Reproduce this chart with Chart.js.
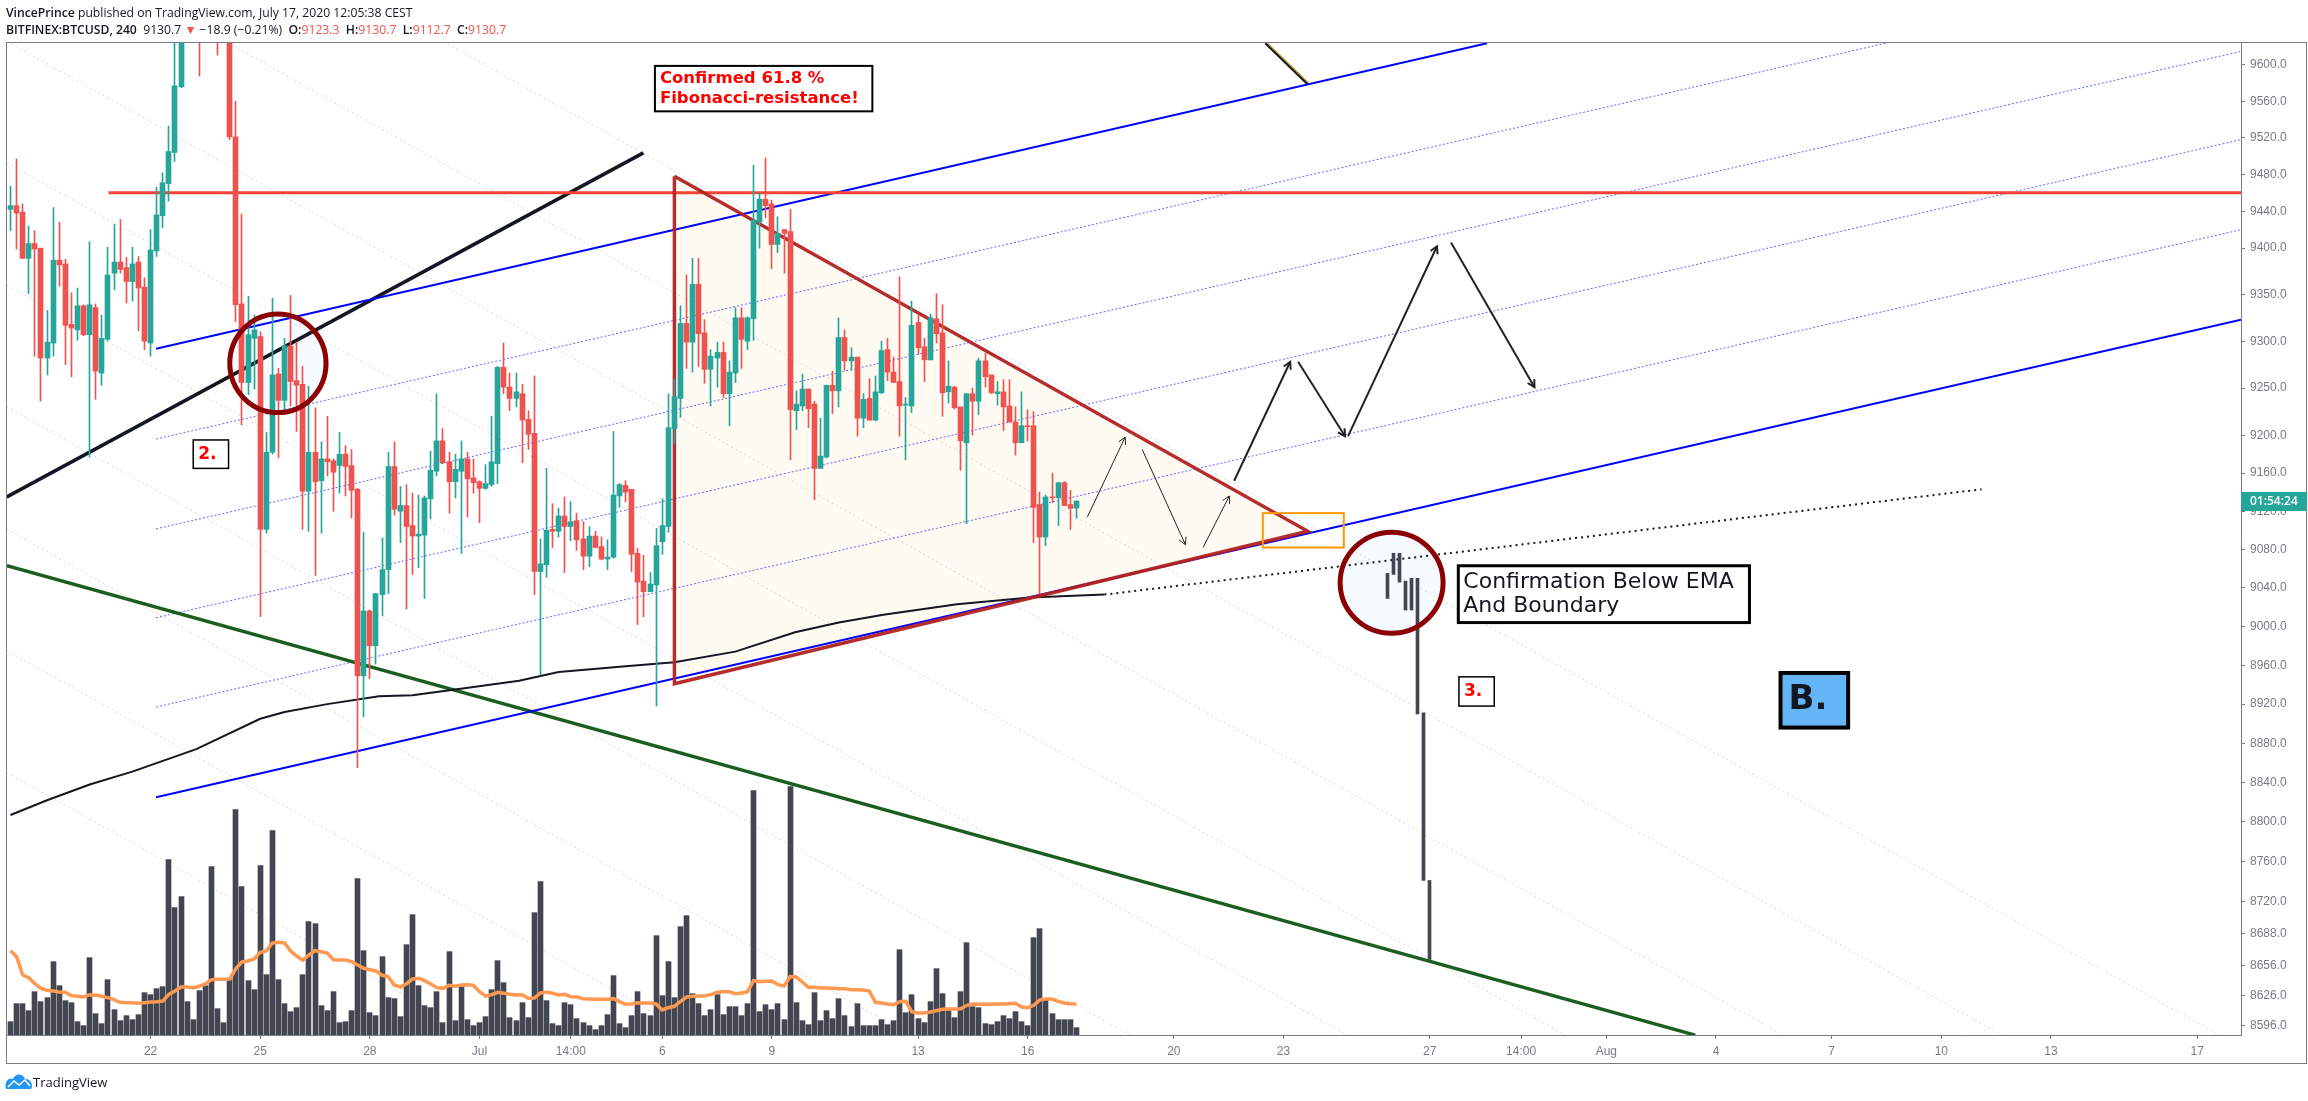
<!DOCTYPE html>
<html lang="en">
<head>
<meta charset="UTF-8">
<title>BITFINEX:BTCUSD, 240</title>
<script src="https://cdn.jsdelivr.net/npm/chart.js@4"></script>
<style>
  html, body { margin: 0; padding: 0; background: #fff; }
  canvas { display: block; }
</style>
</head>
<body>
<canvas id="chart" width="2308" height="1101"></canvas>
<script>
// 4h candles
const opens = [9442,9446,9439,9389,9405,9400,9282,9298,9387,9383,9318,9312,9338,9307,9336,9266,9302,9373,9385,9379,
  9364,9385,9358,9298,9397,9435,9470,9504,9576,9640,9665,9660,9640,9670,9650,9635,9650,9521,9340,9256,
  9303,9305,9101,9182,9265,9237,9295,9258,9254,9141,9182,9152,9175,9173,9168,9180,9168,9143,8949,9016,
  8980,9033,9059,9167,9120,9126,9105,9094,9095,9133,9162,9194,9172,9151,9162,9175,9155,9151,9144,9148,
  9170,9272,9251,9239,9244,9217,9202,9057,9064,9101,9099,9115,9104,9110,9091,9073,9094,9083,9070,9072,
  9136,9147,9143,9076,9047,9036,9043,9088,9104,9207,9239,9319,9299,9361,9309,9270,9282,9288,9244,9266,
  9325,9300,9324,9428,9453,9448,9404,9420,9418,9226,9231,9249,9233,9165,9177,9253,9247,9304,9279,9283,
  9218,9239,9216,9245,9291,9267,9257,9232,9231,9320,9294,9280,9324,9309,9246,9251,9230,9192,9244,9236,
  9279,9264,9244,9246,9231,9214,9192,9210,9210,9127,9093,9135,9134,9150,9127,9123.3];
const highs = [9467,9497,9448,9424,9419,9400,9333,9444,9428,9388,9352,9357,9339,9407,9340,9328,9401,9426,9431,9390,
  9401,9391,9368,9420,9466,9482,9533,9630,9650,9675,9690,9668,9680,9685,9660,9650,9660,9560,9437,9348,
  9328,9310,9203,9346,9271,9303,9349,9299,9273,9252,9229,9193,9220,9175,9203,9189,9185,9144,9098,9017,
  9034,9092,9182,9193,9146,9148,9139,9137,9136,9183,9244,9207,9182,9180,9194,9182,9175,9152,9169,9220,
  9273,9298,9266,9266,9254,9226,9263,9091,9165,9128,9123,9135,9130,9118,9109,9104,9099,9093,9090,9204,
  9149,9152,9143,9081,9074,9056,9102,9133,9244,9259,9338,9371,9389,9389,9323,9291,9299,9299,9279,9336,
  9336,9326,9490,9460,9498,9452,9434,9420,9442,9247,9265,9249,9236,9218,9253,9268,9325,9312,9293,9283,
  9244,9260,9263,9300,9303,9283,9369,9240,9343,9328,9303,9329,9351,9339,9279,9252,9230,9244,9250,9282,
  9287,9264,9257,9259,9259,9230,9246,9227,9225,9140,9137,9160,9150,9151,9142,9130.7];
const lows = [9419,9399,9389,9351,9284,9236,9264,9284,9359,9275,9262,9301,9306,9177,9238,9253,9300,9355,9373,9341,
  9343,9311,9291,9284,9391,9422,9451,9494,9575,9632,9640,9588,9630,9635,9611,9626,9518,9321,9211,9243,
  9249,9010,9097,9180,9176,9223,9231,9204,9101,9099,9053,9097,9157,9120,9139,9136,9113,8855,8907,8946,
  8961,9011,9034,9116,9087,9018,9054,9061,9029,9112,9157,9170,9118,9134,9076,9114,9139,9108,9143,9146,
  9149,9244,9226,9230,9171,9185,9033,8950,9051,9082,9093,9056,9089,9079,9059,9062,9082,9069,9059,9071,
  9124,9130,9057,9002,9010,9036,8918,9075,9098,9191,9219,9271,9267,9273,9255,9231,9251,9240,9210,9256,
  9271,9291,9301,9400,9433,9378,9395,9373,9174,9206,9226,9208,9132,9165,9176,9223,9230,9269,9269,9199,
  9208,9216,9215,9244,9258,9256,9199,9174,9224,9286,9257,9280,9298,9220,9234,9228,9163,9107,9200,9222,
  9251,9244,9232,9205,9214,9179,9192,9194,9087,9034,9084,9129,9105,9126,9101,9112.7];
const closes = [9446,9438,9389,9405,9399,9282,9299,9387,9382,9317,9314,9338,9307,9339,9268,9303,9371,9385,9377,9364,
  9383,9357,9300,9398,9436,9471,9505,9577,9640,9665,9650,9640,9670,9650,9635,9630,9521,9339,9256,9307,
  9312,9101,9182,9264,9237,9295,9257,9253,9141,9182,9151,9175,9172,9161,9180,9167,9142,8949,9016,8980,
  9034,9059,9167,9122,9126,9104,9094,9096,9134,9163,9194,9171,9151,9164,9175,9154,9150,9144,9149,9172,
  9272,9251,9239,9246,9216,9201,9057,9065,9100,9099,9115,9104,9109,9090,9073,9094,9082,9070,9072,9137,
  9148,9140,9075,9046,9036,9044,9084,9105,9208,9241,9319,9299,9361,9308,9270,9284,9288,9244,9267,9325,
  9302,9325,9430,9453,9446,9404,9416,9416,9227,9233,9249,9228,9165,9178,9253,9247,9304,9279,9283,9218,
  9238,9216,9246,9290,9267,9256,9231,9233,9317,9293,9280,9325,9308,9245,9252,9229,9194,9244,9236,9279,
  9262,9245,9246,9230,9214,9192,9210,9209,9124,9093,9135,9134,9150,9126,9123,9130.7];

const volumes = [40,94,94,73,130,100,112,220,148,103,97,40,28,232,64,34,166,76,43,58,
  46,61,127,121,139,145,526,382,415,100,46,133,148,505,79,37,166,676,445,163,
  136,508,181,613,166,94,70,82,181,340,334,88,73,130,37,40,73,469,253,67,
  58,235,112,109,55,271,361,148,88,82,130,37,250,43,145,46,28,37,55,136,
  223,157,52,43,97,52,367,460,103,34,28,97,91,49,37,28,16,28,61,178,
  34,22,58,130,64,58,298,118,220,112,325,358,124,94,58,76,121,61,85,85,
  58,94,733,70,91,76,94,46,745,97,43,31,127,43,73,49,109,58,25,94,
  28,28,28,46,31,43,256,67,121,49,37,100,199,124,73,52,130,277,85,82,
  34,31,40,58,49,70,40,28,292,319,106,64,46,46,46,22];
const volumeMa = [253,235,180,172,154,140,134,132,129,128,118,116,114,121,119,116,112,106,98,97,
  97,95,97,99,100,102,122,132,144,144,142,146,153,166,167,167,168,199,219,222,
  228,248,252,276,278,276,252,236,225,240,253,250,246,226,225,225,220,210,200,196,
  192,179,175,150,144,154,168,170,163,153,142,140,149,146,150,151,149,130,117,121,
  128,125,122,120,121,110,111,126,128,125,120,122,115,114,109,108,107,107,107,109,
  100,92,93,97,96,96,93,75,82,86,101,114,116,117,118,121,128,130,130,124,
  126,130,163,160,161,162,151,147,175,174,159,143,143,141,141,140,139,139,136,136,
  135,132,98,96,93,91,100,101,69,66,66,69,73,77,78,78,79,89,93,92,
  92,92,93,93,94,95,84,82,89,105,108,108,101,96,94,93];

const yTicks = [9600,9560,9520,9480,9440,9400,9350,9300,9250,9200,9160,9120,9080,9040,9000,8960,8920,8880,8840,8800,8760,8720,8688,8656,8626,8596];
const xTickBars = [23,41,59,77,92,107,125,149,167,191,209,233,248,262,280,299,317,335,359];
const xTickLabels = ['22','25','28','Jul','14:00','6','9','13','16','20','23','27','14:00','Aug','4','7','10','13','17'];

// 200 EMA, solid part then the projected dotted part
const emaBars = [0,6,13,20,30.5,41,45,52,60.5,66,73,83.5,90,101,109,119,128.8,136,143.3,155.4,167.4,179.6];
const emaPrices = [8807,8822,8838,8851,8874,8905,8912,8920,8928,8929,8935,8944,8953,8959,8963,8974,8994,9004,9012,9023,9030,9033];
const emaProjBars = [179.6,323.6];
const emaProjPrices = [9033,9143];

// drawn price levels and trend lines (bar index, price)
const resistanceBars = [16.1,366.2];
const resistancePrices = [9460,9460];
const blackTrendBars = [-0.6,103.9];
const blackTrendPrices = [9135,9503.5];
const greenTrendBars = [-0.6,276.6];
const greenTrendPrices = [9063,8587];
const channelTopBars = [23.9,242.4];
const channelTopPrices = [9292,9624];
const channelBottomBars = [23.9,366.2];
const channelBottomPrices = [8825,9323];
const channelMidBars = [[23.9,307.8],[23.9,366.2],[23.9,366.2],[23.9,366.2]];
const channelMidPrices = [[9196,9624],[9101.5,9615],[9009,9518],[8917,9420]];
const fanStartPrices = [9900,9762,9626,9492.5,9360,9230,9101,8975,8850];
const fanEndPrices = [8575,8456,8338,8222,8107.5,7995,7883,7774,7665];
const fanBars = [-0.6,366.2];
const topStubBars = [206,212.9];
const topStubPrices = [9624,9579];

// triangle
const triangleBars = [109,213,109,109];
const trianglePrices = [9478,9099,8941,9478];

// projected path arrows
const arrowBars = [[176.8,183],[185.8,192.9],[195.8,200.1],[200.9,210.1],[211.4,219.1],[219.6,234.2],[236.5,250.2]];
const arrowPrices = [[9114,9198],[9185,9085],[9082,9136],[9152,9278],[9278,9199],[9199,9402],[9406,9251]];
const arrowWidths = [1,1,1,2,2,2,2];

// pasted bar pattern
const ghostBars = [226,227,228,229,230,231,232,233];
const ghostHighs = [9055,9076,9076,9047,9050,9050,8911,8741];
const ghostLows = [9029,9054,9046,9017,9017,8910,8741,8662];

const TEAL = '#26a69a';
const RED = '#ef5350';
const AXIS = '#787b86';
const DARK = '#131722';
const FONT = '"Open Sans", sans-serif';

function lineData(bars, prices) {
  return bars.map((b, i) => ({ x: b, y: prices[i] }));
}

function line(bars, prices, color, width, order, extra) {
  return Object.assign({
    type: 'line',
    data: lineData(bars, prices),
    borderColor: color,
    borderWidth: width,
    pointRadius: 0,
    tension: 0,
    fill: false,
    xAxisID: 'x',
    yAxisID: 'y',
    order: order
  }, extra || {});
}

const candleColors = closes.map((c, i) => c >= opens[i] ? TEAL : RED);

const datasets = [];

fanStartPrices.forEach((p, i) => {
  datasets.push(line(fanBars, [p, fanEndPrices[i]], '#d8d8d8', 1, 20, { borderDash: [2, 3] }));
});
channelMidBars.forEach((bars, i) => {
  datasets.push(line(bars, channelMidPrices[i], 'rgba(60,60,255,0.8)', 1, 18, { borderDash: [2, 2] }));
});
datasets.push(line(channelTopBars, channelTopPrices, '#0000ff', 2, 12));
datasets.push(line(channelBottomBars, channelBottomPrices, '#0000ff', 2, 12));
datasets.push(line(greenTrendBars, greenTrendPrices, '#1b5e20', 3.5, 13));
datasets.push(line(blackTrendBars, blackTrendPrices, DARK, 3.5, 13));
datasets.push(line(topStubBars.map(b => b + 0.3), topStubPrices, '#c9a227', 2, 14));
datasets.push(line(topStubBars, topStubPrices, DARK, 2, 13));
datasets.push(line(resistanceBars, resistancePrices, '#f44336', 3, 11));
datasets.push(line(emaBars, emaPrices, DARK, 2, 10));
datasets.push(line(emaProjBars, emaProjPrices, DARK, 2, 10, { borderDash: [2, 4] }));
datasets.push(line(triangleBars, trianglePrices, 'rgba(178,34,34,0.95)', 3.5, 9, { borderJoinStyle: 'miter' }));
arrowBars.forEach((bars, i) => {
  datasets.push(line(bars, arrowPrices[i], '#222222', arrowWidths[i], 8));
});

datasets.push({
  type: 'bar',
  data: volumes.map((v, i) => ({ x: i, y: v })),
  backgroundColor: '#434651',
  barThickness: 5,
  yAxisID: 'yVol',
  grouped: false,
  order: 6
});
datasets.push(line([], [], '#ff9850', 3.5, 5, { yAxisID: 'yVol', data: volumeMa.map((v, i) => ({ x: i, y: v })) }));

datasets.push({
  type: 'bar',
  data: ghostBars.map((b, i) => ({ x: b, y: [ghostLows[i], ghostHighs[i]] })),
  backgroundColor: '#434651',
  barThickness: 3,
  yAxisID: 'y',
  grouped: false,
  order: 4
});
datasets.push({
  type: 'bar',
  data: highs.map((h, i) => ({ x: i, y: [lows[i], h] })),
  backgroundColor: candleColors,
  barThickness: 1,
  yAxisID: 'y',
  grouped: false,
  order: 3
});
datasets.push({
  type: 'bar',
  data: opens.map((o, i) => ({ x: i, y: [o, closes[i]] })),
  backgroundColor: candleColors,
  barThickness: 5,
  minBarLength: 1,
  yAxisID: 'y',
  grouped: false,
  order: 2
});

// text boxes and circles, placed in bar index / price
const noteBoxes = [
  { x1: 105.8, x2: 141.5, y1: 9599, y2: 9549, lines: ['Confirmed 61.8 %', 'Fibonacci-resistance!'], color: '#ff0000', size: 16.5, weight: '700', lh: 20, border: 2, pad: 5, fill: '#fff' },
  { x1: 30, x2: 35.8, y1: 9195, y2: 9165, lines: ['2.'], color: '#ff0000', size: 17, weight: '700', lh: 20, border: 1.5, pad: 5, fill: '#fff' },
  { x1: 237.8, x2: 243.6, y1: 8948, y2: 8918, lines: ['3.'], color: '#ff0000', size: 17, weight: '700', lh: 20, border: 1.5, pad: 5, fill: '#fff' },
  { x1: 237.7, x2: 285.5, y1: 9063, y2: 9004, lines: ['Confirmation Below EMA', 'And Boundary'], color: DARK, size: 22, weight: '400', lh: 24, border: 3, pad: 5, fill: '#fff' },
  { x1: 290.6, x2: 301.7, y1: 8952, y2: 8896, lines: ['B.'], color: DARK, size: 34, weight: '700', lh: 40, border: 4, pad: 8, fill: '#64b5f6' }
];
const circles = [
  { x1: 36, x2: 51.8, y1: 9329, y2: 9224 },
  { x1: 218.3, x2: 235.2, y1: 9098, y2: 8993 }
];
const orangeBox = { x1: 205.6, x2: 218.9, y1: 9118, y2: 9082 };

const headerLine1 = [
  { t: 'VincePrince', b: true },
  { t: ' published on TradingView.com, July 17, 2020 12:05:38 CEST' }
];
const headerLine2 = [
  { t: 'BITFINEX:BTCUSD, 240', b: true },
  { t: '  9130.7 ' },
  { t: '▼', c: RED },
  { t: ' −18.9 (−0.21%)  ' },
  { t: 'O:', b: true }, { t: '9123.3  ', c: RED },
  { t: 'H:', b: true }, { t: '9130.7  ', c: RED },
  { t: 'L:', b: true }, { t: '9112.7  ', c: RED },
  { t: 'C:', b: true }, { t: '9130.7', c: RED }
];

function drawSegments(ctx, segs, x, y) {
  segs.forEach(s => {
    ctx.font = (s.b ? '600 ' : '400 ') + '12.2px ' + FONT;
    ctx.fillStyle = s.c || DARK;
    ctx.fillText(s.t, x, y);
    x += ctx.measureText(s.t).width;
  });
}

function ellipsePath(chart, c) {
  const sx = chart.scales.x, sy = chart.scales.y;
  const l = sx.getPixelForValue(c.x1), r = sx.getPixelForValue(c.x2);
  const t = sy.getPixelForValue(c.y1), b = sy.getPixelForValue(c.y2);
  chart.ctx.beginPath();
  chart.ctx.ellipse((l + r) / 2, (t + b) / 2, (r - l) / 2, (b - t) / 2, 0, 0, Math.PI * 2);
}

const drawings = {
  id: 'drawings',
  afterDatasetUpdate(chart, args) {
    // snap bars to whole pixels so the wicks stay crisp
    const meta = chart.getDatasetMeta(args.index);
    if (meta.type === 'bar') {
      meta.data.forEach(el => { el.x = Math.floor(el.x) + 0.5; });
    }
  },
  beforeDatasetsDraw(chart) {
    const ctx = chart.ctx, sx = chart.scales.x, sy = chart.scales.y;
    ctx.save();
    ctx.beginPath();
    triangleBars.forEach((b, i) => {
      ctx.lineTo(sx.getPixelForValue(b), sy.getPixelForValue(trianglePrices[i]));
    });
    ctx.closePath();
    ctx.fillStyle = 'rgba(255,152,0,0.05)';
    ctx.fill();
    circles.forEach(c => {
      ellipsePath(chart, c);
      ctx.fillStyle = 'rgba(33,150,243,0.04)';
      ctx.fill();
    });
    ctx.restore();
  },
  afterDatasetsDraw(chart) {
    const ctx = chart.ctx, sx = chart.scales.x, sy = chart.scales.y;
    ctx.save();
    circles.forEach(c => {
      ellipsePath(chart, c);
      ctx.strokeStyle = '#8b0000';
      ctx.lineWidth = 5;
      ctx.stroke();
    });

    ctx.strokeStyle = '#ff9800';
    ctx.lineWidth = 2;
    ctx.strokeRect(sx.getPixelForValue(orangeBox.x1), sy.getPixelForValue(orangeBox.y1),
      sx.getPixelForValue(orangeBox.x2) - sx.getPixelForValue(orangeBox.x1),
      sy.getPixelForValue(orangeBox.y2) - sy.getPixelForValue(orangeBox.y1));

    // arrow heads
    ctx.strokeStyle = '#222222';
    arrowBars.forEach((bars, i) => {
      const x0 = sx.getPixelForValue(bars[0]), y0 = sy.getPixelForValue(arrowPrices[i][0]);
      const x1 = sx.getPixelForValue(bars[1]), y1 = sy.getPixelForValue(arrowPrices[i][1]);
      const a = Math.atan2(y1 - y0, x1 - x0);
      ctx.lineWidth = arrowWidths[i];
      ctx.beginPath();
      ctx.moveTo(x1 - 8 * Math.cos(a - 0.5), y1 - 8 * Math.sin(a - 0.5));
      ctx.lineTo(x1, y1);
      ctx.lineTo(x1 - 8 * Math.cos(a + 0.5), y1 - 8 * Math.sin(a + 0.5));
      ctx.stroke();
    });

    noteBoxes.forEach(n => {
      const l = sx.getPixelForValue(n.x1), r = sx.getPixelForValue(n.x2);
      const t = sy.getPixelForValue(n.y1), b = sy.getPixelForValue(n.y2);
      ctx.fillStyle = n.fill;
      ctx.fillRect(l, t, r - l, b - t);
      ctx.strokeStyle = '#000';
      ctx.lineWidth = n.border;
      ctx.strokeRect(l, t, r - l, b - t);
      ctx.fillStyle = n.color;
      ctx.font = n.weight + ' ' + n.size + 'px "DejaVu Sans", sans-serif';
      ctx.textBaseline = 'middle';
      ctx.textAlign = 'left';
      const y0 = (t + b) / 2 - (n.lines.length - 1) * n.lh / 2;
      n.lines.forEach((s, i) => ctx.fillText(s, l + n.pad, y0 + i * n.lh));
    });
    ctx.restore();
  },
  afterDraw(chart) {
    const ctx = chart.ctx, area = chart.chartArea;
    ctx.save();
    // outer frame
    ctx.strokeStyle = AXIS;
    ctx.lineWidth = 1;
    ctx.strokeRect(area.left - 0.5, area.top - 0.5, 2307 - area.left, 1064 - area.top);

    // header
    ctx.textBaseline = 'alphabetic';
    ctx.textAlign = 'left';
    drawSegments(ctx, headerLine1, 6, 17);
    drawSegments(ctx, headerLine2, 6, 34);

    // countdown tag on the price axis
    const tagY = chart.scales.y.getPixelForValue(closes[closes.length - 1]);
    ctx.fillStyle = TEAL;
    ctx.fillRect(area.right, tagY - 9, 66, 19);
    ctx.fillStyle = '#fff';
    ctx.font = '600 12px ' + FONT;
    ctx.textBaseline = 'middle';
    ctx.fillText('01:54:24', area.right + 9, tagY + 1);

    // footer logo and name
    ctx.fillStyle = '#2196f3';
    ctx.beginPath();
    ctx.moveTo(6, 1089);
    ctx.bezierCurveTo(4, 1080, 10, 1077, 13, 1079);
    ctx.bezierCurveTo(15, 1073, 23, 1073, 25, 1079);
    ctx.bezierCurveTo(30, 1078, 34, 1085, 31, 1089);
    ctx.closePath();
    ctx.fill();
    ctx.strokeStyle = '#fff';
    ctx.lineWidth = 1.5;
    ctx.beginPath();
    ctx.moveTo(8, 1087);
    ctx.lineTo(14, 1081);
    ctx.lineTo(19, 1085);
    ctx.lineTo(25, 1080);
    ctx.lineTo(30, 1086);
    ctx.stroke();
    ctx.fillStyle = DARK;
    ctx.font = '400 13px ' + FONT;
    ctx.fillText('TradingView', 33, 1083);
    ctx.restore();
  }
};

new Chart(document.getElementById('chart'), {
  type: 'bar',
  data: { datasets: datasets },
  plugins: [drawings],
  options: {
    responsive: false,
    animation: false,
    events: [],
    layout: { padding: { left: 7, top: 43, right: 0, bottom: 37 } },
    plugins: { legend: { display: false }, tooltip: { enabled: false }, title: { display: false } },
    scales: {
      x: {
        type: 'linear',
        offset: false,
        min: -0.575,
        max: 366.2,
        afterBuildTicks: s => { s.ticks = xTickBars.map(v => ({ value: v })); },
        afterFit: s => { s.height = 29; },
        grid: { offset: false, drawOnChartArea: false, drawTicks: true, tickLength: 4, color: AXIS },
        border: { color: AXIS },
        ticks: {
          autoSkip: false,
          maxRotation: 0,
          padding: 5,
          color: AXIS,
          font: { family: '"Liberation Sans", sans-serif', size: 12 },
          callback: (v, i) => xTickLabels[i]
        }
      },
      y: {
        type: 'logarithmic',
        position: 'right',
        min: 8587.1,
        max: 9624.3,
        afterBuildTicks: s => { s.ticks = yTicks.map(v => ({ value: v })); },
        afterFit: s => { s.width = 67; },
        grid: { drawOnChartArea: false, drawTicks: true, tickLength: 4, color: AXIS },
        border: { color: AXIS },
        ticks: {
          autoSkip: false,
          padding: 5,
          color: AXIS,
          font: { family: '"Liberation Sans", sans-serif', size: 12 },
          callback: v => Number(v).toFixed(1)
        }
      },
      yVol: {
        type: 'linear',
        display: false,
        min: 0,
        max: 2976
      }
    }
  }
});
</script>
</body>
</html>
